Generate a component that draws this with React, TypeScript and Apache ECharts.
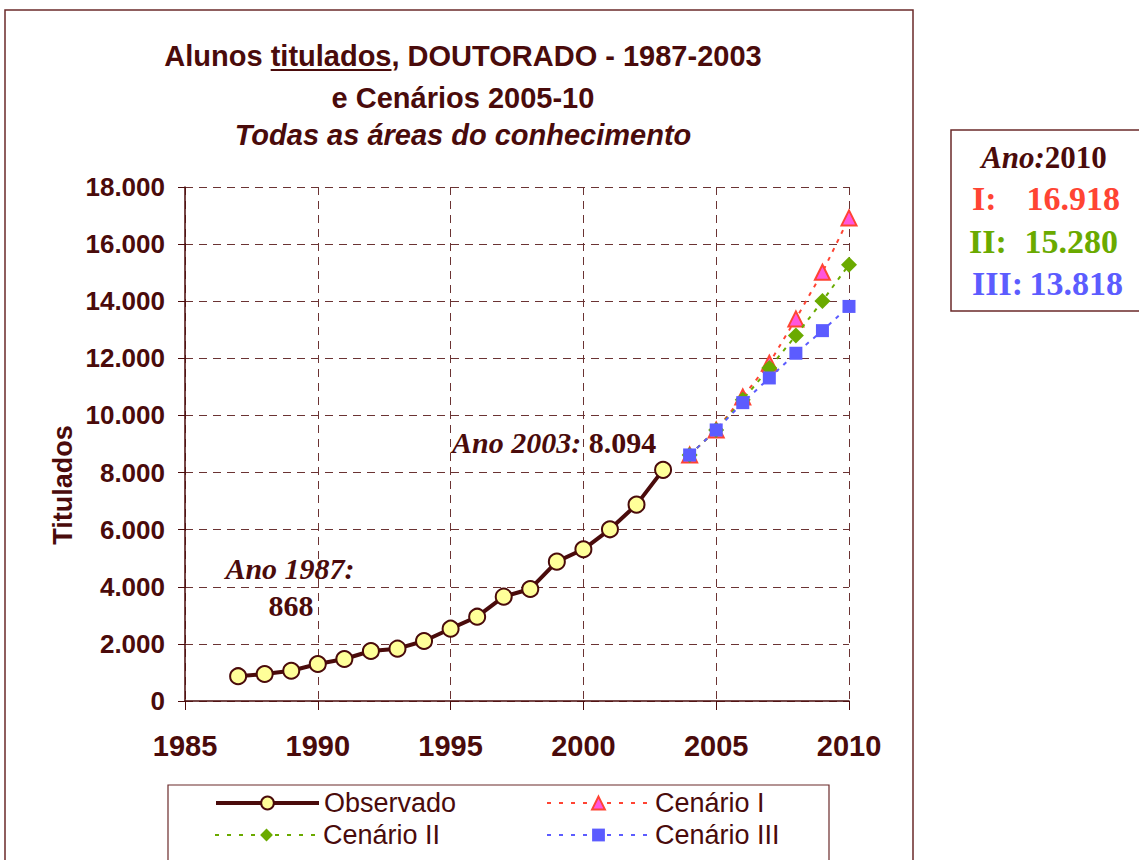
import React, { useEffect, useRef } from "react";
import * as echarts from "echarts";

// ---- Data ----
const observedYears = [1987, 1988, 1989, 1990, 1991, 1992, 1993, 1994, 1995, 1996, 1997, 1998, 1999, 2000, 2001, 2002, 2003];
const observedValues = [868, 945, 1060, 1296, 1471, 1751, 1832, 2101, 2532, 2952, 3653, 3923, 4880, 5313, 6013, 6876, 8094];
const scenarioYears = [2004, 2005, 2006, 2007, 2008, 2009, 2010];
const scenarioI = [8616, 9492, 10650, 11830, 13380, 15015, 16918];
const scenarioII = [8616, 9492, 10550, 11660, 12796, 14011, 15280];
const scenarioIII = [8616, 9492, 10448, 11313, 12178, 12970, 13818];
const seriesNames = ["Observado", "Cenário I", "Cenário II", "Cenário III"];
const xMin = 1985, xMax = 2010, xInterval = 5;
const yMin = 0, yMax = 18000, yInterval = 2000;
const yAxisTitle = "Titulados";
const titleLines = ["Alunos titulados, DOUTORADO - 1987-2003", "e Cenários 2005-10", "Todas as áreas do conhecimento"];

const MAROON = "#4a0b0b";
const RED = "#ff4433";
const GREEN = "#6aaa00";
const BLUE = "#5c5cff";
const SANS = "'Liberation Sans', Arial, sans-serif";
const SERIF = "'Liberation Serif', 'Times New Roman', serif";

const fmt = (n: number) => String(n).replace(/\B(?=(\d{3})+(?!\d))/g, ".");
const pairs = (xs: number[], ys: number[]) => xs.map((x, i) => [x, ys[i]]);

function measure(text: string, font: string): number {
  const c = document.createElement("canvas");
  const ctx = c.getContext("2d");
  if (!ctx) return text.length * 14;
  ctx.font = font;
  return ctx.measureText(text).width;
}

export default function App() {
  const ref = useRef<HTMLDivElement>(null);
  useEffect(() => {
    if (!ref.current) return;
    const chart = echarts.init(ref.current, undefined, { renderer: "svg" });

    const titleFont = `bold 29px ${SANS}`;
    const titleCx = 463;
    const line1W = measure(titleLines[0], titleFont);
    const preW = measure("Alunos ", titleFont);
    const ulW = measure("titulados", titleFont);
    const ulX0 = titleCx - line1W / 2 + preW;

    const scenLine = (color: string) => ({ color, width: 2, type: [4, 6] as any });

    chart.setOption({
      animation: false,
      backgroundColor: "#ffffff",
      grid: { left: 185, right: 290, top: 187, bottom: 159, containLabel: false },
      xAxis: {
        type: "value",
        min: xMin,
        max: xMax,
        interval: xInterval,
        axisLine: { show: true, lineStyle: { color: MAROON, width: 1.5 } },
        axisTick: { show: true, length: 9, lineStyle: { color: MAROON, width: 1 } },
        axisLabel: { color: MAROON, fontSize: 29, fontWeight: "bold", fontFamily: SANS, margin: 30, formatter: (v: number) => String(v) },
        splitLine: { show: true, lineStyle: { color: "#6b3333", type: [8, 6], width: 1 } },
      },
      yAxis: {
        type: "value",
        min: yMin,
        max: yMax,
        interval: yInterval,
        axisLine: { show: true, lineStyle: { color: MAROON, width: 1.5 } },
        axisTick: { show: true, length: 7, lineStyle: { color: MAROON, width: 1 } },
        axisLabel: { color: MAROON, fontSize: 26, fontWeight: "bold", fontFamily: SANS, margin: 20, formatter: (v: number) => fmt(v) },
        splitLine: { show: true, lineStyle: { color: "#6b3333", type: [8, 6], width: 1 } },
      },
      legend: [
        { name: 0, left: 214, top: 788, lw: 4 },
        { name: 1, left: 546, top: 788, lw: 2 },
        { name: 2, left: 214, top: 820, lw: 2 },
        { name: 3, left: 546, top: 820, lw: 2 },
      ].map((l) => ({
        data: [seriesNames[l.name]],
        left: l.left,
        top: l.top,
        padding: 0,
        itemWidth: 103,
        itemHeight: 16,
        selectedMode: false,
        lineStyle: l.lw === 4 ? { width: 4 } : { width: 2, type: [4, 8] },
        textStyle: { color: MAROON, fontSize: 27, fontFamily: SANS, lineHeight: 30 },
      })),
      series: [
        {
          name: seriesNames[0],
          type: "line",
          data: pairs(observedYears, observedValues),
          symbol: "circle",
          symbolSize: 16,
          lineStyle: { color: MAROON, width: 4 },
          itemStyle: { color: "#ffff99", borderColor: MAROON, borderWidth: 2 },
          z: 5,
        },
        {
          name: seriesNames[1],
          type: "line",
          data: pairs(scenarioYears, scenarioI),
          symbol: "triangle",
          symbolSize: 15,
          lineStyle: scenLine(RED),
          itemStyle: { color: "#ff55dd", borderColor: RED, borderWidth: 2 },
          z: 2,
        },
        {
          name: seriesNames[2],
          type: "line",
          data: pairs(scenarioYears, scenarioII),
          symbol: "diamond",
          symbolSize: 16,
          lineStyle: scenLine(GREEN),
          itemStyle: { color: GREEN },
          z: 3,
        },
        {
          name: seriesNames[3],
          type: "line",
          data: pairs(scenarioYears, scenarioIII),
          symbol: "rect",
          symbolSize: 13,
          lineStyle: scenLine(BLUE),
          itemStyle: { color: BLUE },
          z: 4,
        },
      ],
      graphic: [
        // outer chart border
        { type: "rect", shape: { x: 5, y: 10, width: 908, height: 900 }, style: { fill: "none", stroke: "#6b2a2a", lineWidth: 1.5 }, silent: true },
        // legend box
        { type: "rect", shape: { x: 168, y: 785, width: 661, height: 120 }, style: { fill: "none", stroke: "#6b2a2a", lineWidth: 1.2 }, silent: true },
        // right box
        { type: "rect", shape: { x: 951, y: 130, width: 200, height: 181 }, style: { fill: "none", stroke: "#6b2a2a", lineWidth: 1.5 }, silent: true },
        // y axis title
        { type: "text", x: 63, y: 485, rotation: Math.PI / 2, style: { text: yAxisTitle, font: `bold 27px ${SANS}`, fill: MAROON, align: "center", verticalAlign: "middle" } },
        // title
        { type: "text", x: titleCx, y: 56, style: { text: titleLines[0], font: titleFont, fill: MAROON, align: "center", verticalAlign: "middle" } },
        { type: "line", shape: { x1: ulX0, y1: 70, x2: ulX0 + ulW, y2: 70 }, style: { stroke: MAROON, lineWidth: 2 } },
        { type: "text", x: titleCx, y: 98, style: { text: titleLines[1], font: titleFont, fill: MAROON, align: "center", verticalAlign: "middle" } },
        { type: "text", x: titleCx, y: 135, style: { text: titleLines[2], font: `italic bold 29px ${SANS}`, fill: MAROON, align: "center", verticalAlign: "middle" } },
        // annotations
        { type: "text", x: 290, y: 568, style: { text: `Ano ${observedYears[0]}:`, font: `italic bold 30px ${SERIF}`, fill: MAROON, align: "center", verticalAlign: "middle" } },
        { type: "text", x: 291, y: 605, style: { text: fmt(observedValues[0]), font: `bold 30px ${SERIF}`, fill: MAROON, align: "center", verticalAlign: "middle" } },
        {
          type: "text",
          x: 452,
          y: 442,
          style: {
            text: `{i|Ano ${observedYears[observedYears.length - 1]}:} {b|${fmt(observedValues[observedValues.length - 1])}}`,
            align: "left",
            verticalAlign: "middle",
            rich: {
              i: { fontFamily: SERIF, fontStyle: "italic", fontWeight: "bold", fontSize: 30, fill: MAROON, color: MAROON },
              b: { fontFamily: SERIF, fontWeight: "bold", fontSize: 30, fill: MAROON, color: MAROON },
            },
            fill: MAROON,
            font: `bold 30px ${SERIF}`,
          },
        },
        // right box content
        {
          type: "text",
          x: 1044,
          y: 157,
          style: {
            text: `{i|Ano:}{b|${scenarioYears[scenarioYears.length - 1]}}`,
            align: "center",
            verticalAlign: "middle",
            rich: {
              i: { fontFamily: SERIF, fontStyle: "italic", fontWeight: "bold", fontSize: 31, fill: MAROON, color: MAROON },
              b: { fontFamily: SERIF, fontWeight: "bold", fontSize: 31, fill: MAROON, color: MAROON },
            },
            fill: MAROON,
            font: `bold 31px ${SERIF}`,
          },
        },
        ...[
          { lab: "I:", v: scenarioI, c: RED, lx: 972, rx: 1120, y: 198 },
          { lab: "II:", v: scenarioII, c: GREEN, lx: 969, rx: 1118, y: 241 },
          { lab: "III:", v: scenarioIII, c: BLUE, lx: 972, rx: 1123, y: 283 },
        ].flatMap((r) => [
          { type: "text", x: r.lx, y: r.y, style: { text: r.lab, font: `bold 34px ${SERIF}`, fill: r.c, align: "left", verticalAlign: "middle" } },
          { type: "text", x: r.rx, y: r.y, style: { text: fmt(r.v[r.v.length - 1]), font: `bold 34px ${SERIF}`, fill: r.c, align: "right", verticalAlign: "middle" } },
        ]),
      ],
    });
    return () => chart.dispose();
  }, []);
  return <div ref={ref} style={{ position: "absolute", left: 0, top: 0, width: 1139, height: 860 }} />;
}
